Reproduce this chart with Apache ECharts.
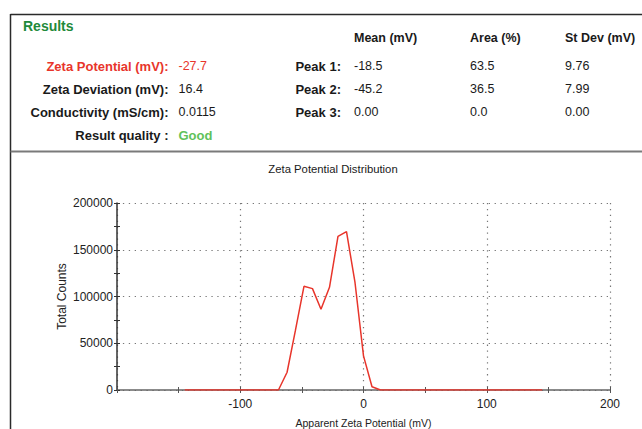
<!DOCTYPE html>
<html>
<head>
<meta charset="utf-8">
<script src="https://cdn.jsdelivr.net/npm/echarts@6/dist/echarts.min.js"></script>
<style>
html,body{margin:0;padding:0;background:#fff;}
#c{width:642px;height:429px;}
</style>
</head>
<body>
<div id="c"></div>
<script>
// ---- data ----
var zetaMv = [-145, -69, -62, -55.2, -48.3, -41.4, -34.5, -27.6, -20.7, -13.8, -6.9, 0, 6.9, 13.8, 145];
var totalCounts = [0, 0, 19000, 64000, 110900, 108400, 86400, 109800, 164300, 169400, 115000, 36500, 3500, 0, 0];
var xTicks = [-200, -100, 0, 100, 200];
var yTicks = [0, 50000, 100000, 150000, 200000];

var summaryLabels = ['Zeta Potential (mV):', 'Zeta Deviation (mV):', 'Conductivity (mS/cm):', 'Result quality :'];
var summaryValues = ['-27.7', '16.4', '0.0115', 'Good'];
var peakLabels = ['Peak 1:', 'Peak 2:', 'Peak 3:'];
var peakMean = ['-18.5', '-45.2', '0.00'];
var peakArea = ['63.5', '36.5', '0.0'];
var peakStDev = ['9.76', '7.99', '0.00'];
var columnHeaders = ['Mean (mV)', 'Area (%)', 'St Dev (mV)'];

var FONT = '"Liberation Sans", Arial, Helvetica, sans-serif';
var RED = '#e8352b';

var chart = echarts.init(document.getElementById('c'), null, {renderer: 'svg'});

var g = [];
// frame
g.push({type:'line', shape:{x1:10.5,y1:14.5,x2:642,y2:14.5}, style:{stroke:'#2a2a2a', lineWidth:1.5}, silent:true});
g.push({type:'line', shape:{x1:10.5,y1:14,x2:10.5,y2:429}, style:{stroke:'#2a2a2a', lineWidth:1.5}, silent:true});
g.push({type:'line', shape:{x1:10.5,y1:151.5,x2:642,y2:151.5}, style:{stroke:'#7a7a7a', lineWidth:2}, silent:true});

function txt(x, y, s, opt) {
  opt = opt || {};
  g.push({type:'text', x:x, y:y, silent:true, style:{
    text:s, font:(opt.bold?'bold ':'') + (opt.size||12.5) + 'px ' + FONT,
    fill:opt.color||'#1a1a1a', align:opt.align||'left', verticalAlign:'middle'
  }});
}
txt(23, 26, 'Results', {bold:true, size:14, color:'#1f8a3b'});
var colX = [354, 470, 565];
columnHeaders.forEach(function(h, i){ txt(colX[i], 38, h, {bold:true}); });
var rowY = [66, 89, 112, 135];
summaryLabels.forEach(function(l, i){
  txt(168.5, rowY[i], l, {bold:true, size:13, align:'right', color: i===0 ? RED : '#1a1a1a'});
  var vc = i===0 ? RED : (i===3 ? '#5fc25a' : '#1a1a1a');
  txt(178.5, rowY[i], summaryValues[i], {color: vc, bold: i===3, size: i===3 ? 13 : 12.5});
});
peakLabels.forEach(function(l, i){
  txt(341, rowY[i], l, {bold:true, size:13, align:'right'});
  txt(colX[0], rowY[i], peakMean[i]);
  txt(colX[1], rowY[i], peakArea[i]);
  txt(colX[2], rowY[i], peakStDev[i]);
});
txt(333, 169, 'Zeta Potential Distribution', {size:11.3, align:'center'});

var dotted = {type:[1.3,4.6], color:'#777', width:1.2};

var option = {
  animation:false,
  graphic:g,
  grid:{left:117, right:32, top:203, bottom:38.5, containLabel:false},
  xAxis:[{
    type:'value', min:xTicks[0], max:xTicks[xTicks.length-1], interval:100,
    name:'Apparent Zeta Potential (mV)', nameLocation:'middle', nameGap:27,
    nameTextStyle:{fontFamily:FONT, fontSize:10.5, color:'#222'},
    axisLine:{show:true, onZero:false, lineStyle:{color:'#666', width:1.5}},
    axisTick:{show:true, length:3, lineStyle:{color:'#555'}},
    minorTick:{show:true, splitNumber:2, length:3, lineStyle:{color:'#555'}},
    axisLabel:{fontFamily:FONT, fontSize:12, color:'#222', margin:8, showMinLabel:false},
    splitLine:{show:true, lineStyle:dotted}
  },{
    type:'value', min:xTicks[0], max:xTicks[xTicks.length-1], interval:100, position:'bottom',
    axisLine:{show:false, onZero:false}, axisLabel:{show:false}, splitLine:{show:false},
    axisTick:{show:true, inside:true, length:3, lineStyle:{color:'#555'}},
    minorTick:{show:true, splitNumber:2, length:3, lineStyle:{color:'#555'}}
  }],
  yAxis:[{
    type:'value', min:yTicks[0], max:yTicks[yTicks.length-1], interval:50000,
    name:'Total Counts', nameLocation:'middle', nameGap:49, nameMoveOverlap:false,
    nameTextStyle:{fontFamily:FONT, fontSize:12, color:'#222'},
    axisLine:{show:true, onZero:false, lineStyle:{color:'#333', width:1.5}},
    axisTick:{show:true, length:3, lineStyle:{color:'#333'}},
    minorTick:{show:true, splitNumber:2, length:3, lineStyle:{color:'#333'}},
    axisLabel:{fontFamily:FONT, fontSize:12, color:'#222', margin:4,
      formatter:function(v){ return String(v); }},
    splitLine:{show:true, lineStyle:dotted}
  },{
    type:'value', min:yTicks[0], max:yTicks[yTicks.length-1], interval:50000, position:'left',
    axisLine:{show:false, onZero:false}, axisLabel:{show:false}, splitLine:{show:false},
    axisTick:{show:true, inside:true, length:3, lineStyle:{color:'#333'}},
    minorTick:{show:true, splitNumber:2, length:3, lineStyle:{color:'#333'}}
  }],
  series:[{
    type:'line', xAxisIndex:0, yAxisIndex:0, z:5,
    data: zetaMv.map(function(x, i){ return [x, totalCounts[i]]; }),
    showSymbol:false, symbol:'none',
    lineStyle:{color:RED, width:1.5}
  }]
};
chart.setOption(option);
</script>
</body>
</html>
